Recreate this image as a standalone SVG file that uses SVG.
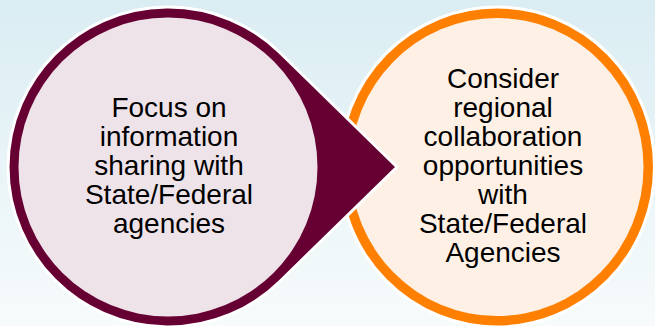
<svg xmlns="http://www.w3.org/2000/svg" width="655" height="326" viewBox="0 0 655 326">
<defs>
<linearGradient id="bg" x1="0" y1="0" x2="0" y2="1">
<stop offset="0" stop-color="#daedf3"/>
<stop offset="1" stop-color="#f7fbfc"/>
</linearGradient>
</defs>
<style>
.t{font-family:"Liberation Sans",Arial,sans-serif;font-size:28px;fill:#000;text-anchor:middle}
.edge{stroke:#fff;stroke-width:3}
</style>
<rect width="655" height="326" fill="url(#bg)"/>
<g id="node-right">
<ellipse cx="497" cy="167" rx="157.5" ry="160" fill="#ff8000" class="edge"/>
<ellipse cx="497" cy="167" rx="146.5" ry="149" fill="#fef0e4"/>
<text class="t" x="503" y="88">Consider</text>
<text class="t" x="503" y="117">regional</text>
<text class="t" x="503" y="146">collaboration</text>
<text class="t" x="503" y="175">opportunities</text>
<text class="t" x="503" y="204">with</text>
<text class="t" x="503" y="233">State/Federal</text>
<text class="t" x="503" y="262">Agencies</text>
</g>
<g id="node-left">
<path d="M397,167 L279.8,52.5 A160,160 0 1 0 279.8,281.5 Z" fill="#660033" class="edge"/>
<circle cx="168" cy="167" r="149.5" fill="#efe3ea"/>
<text class="t" x="169" y="117">Focus on</text>
<text class="t" x="169" y="146">information</text>
<text class="t" x="169" y="175">sharing with</text>
<text class="t" x="169" y="204">State/Federal</text>
<text class="t" x="169" y="233">agencies</text>
</g>
<g id="connectors"/>
</svg>
